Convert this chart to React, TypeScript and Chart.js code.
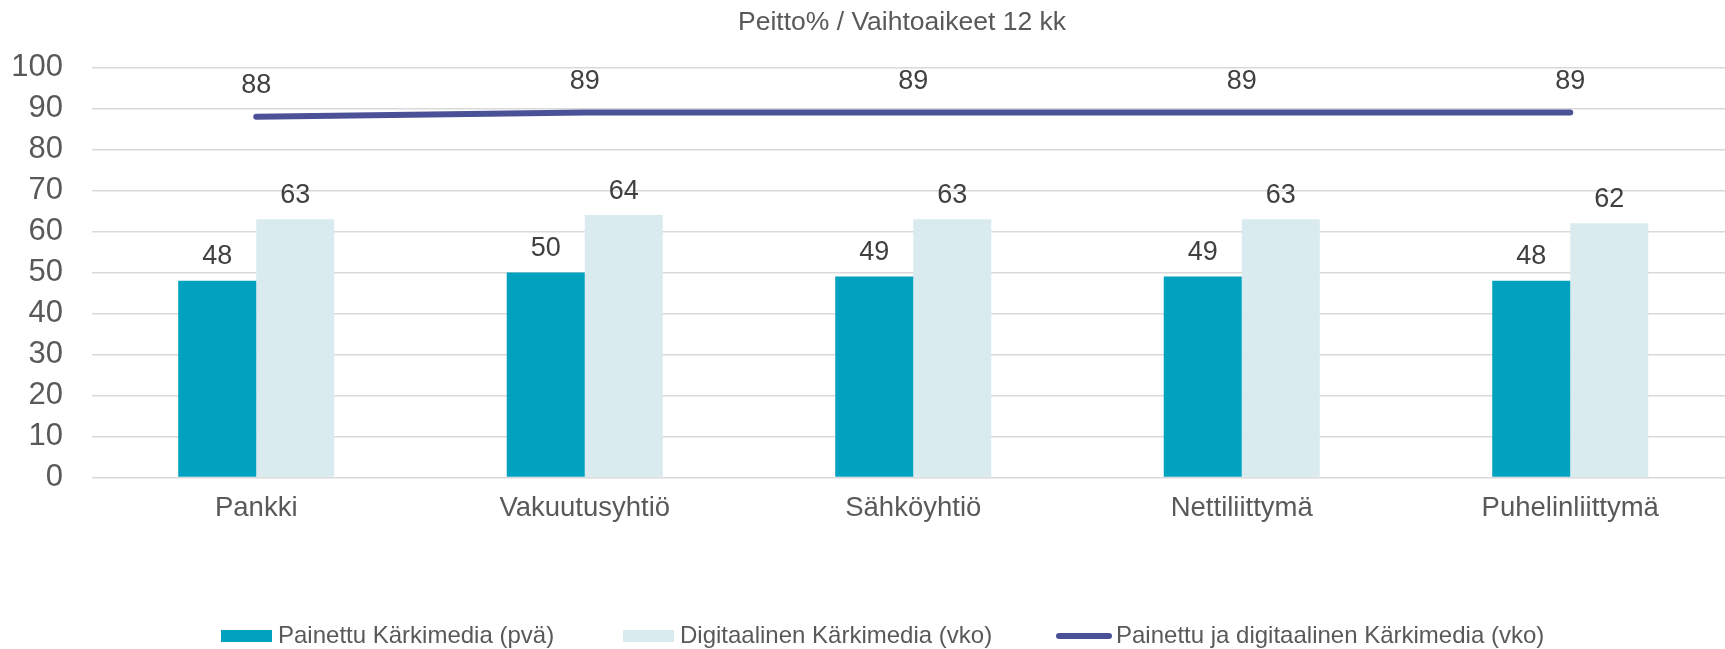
import React, { useEffect, useRef } from "react";
import { Chart, registerables } from "chart.js";

Chart.register(...registerables);

const chartTitle = "Peitto% / Vaihtoaikeet 12 kk";
const categories = ["Pankki", "Vakuutusyhtiö", "Sähköyhtiö", "Nettiliittymä", "Puhelinliittymä"];
const printedLabel = "Painettu Kärkimedia (pvä)";
const digitalLabel = "Digitaalinen Kärkimedia (vko)";
const combinedLabel = "Painettu ja digitaalinen Kärkimedia (vko)";
const printedValues = [48, 50, 49, 49, 48];
const digitalValues = [63, 64, 63, 63, 62];
const combinedValues = [88, 89, 89, 89, 89];
const yMin = 0;
const yMax = 100;
const yStep = 10;

const FONT = "'Liberation Sans', Arial, sans-serif";
const TEAL = "#00A2BF";
const LIGHT = "#DAEBEF";
const NAVY = "#4B5196";
const GRAY = "#595959";
const DARK = "#404040";

const valueLabelsPlugin = {
  id: "valueLabels",
  afterDatasetsDraw(chart: any) {
    const ctx = chart.ctx;
    ctx.save();
    ctx.font = `27px ${FONT}`;
    ctx.fillStyle = DARK;
    ctx.textAlign = "center";
    ctx.textBaseline = "middle";
    chart.data.datasets.forEach((ds: any, i: number) => {
      const meta = chart.getDatasetMeta(i);
      const off = ds.type === "line" ? 31.5 : 24;
      meta.data.forEach((el: any, j: number) => {
        ctx.fillText(String(ds.data[j]), el.x, el.y - off);
      });
    });
    ctx.restore();
  },
};

const titlePlugin = {
  id: "customTitle",
  afterDraw(chart: any) {
    const ctx = chart.ctx;
    ctx.save();
    ctx.font = `26.5px ${FONT}`;
    ctx.fillStyle = GRAY;
    ctx.textAlign = "center";
    ctx.textBaseline = "middle";
    ctx.fillText(chartTitle, 902, 23);
    ctx.restore();
  },
};

const legendX = [221, 623, 1056];

const customLegendPlugin = {
  id: "customLegend",
  afterDraw(chart: any) {
    const ctx = chart.ctx;
    ctx.save();
    ctx.font = `24px ${FONT}`;
    ctx.textBaseline = "middle";
    ctx.textAlign = "left";
    const cy = 636;
    chart.data.datasets.forEach((ds: any, i: number) => {
      const x = legendX[i];
      let textX: number;
      if (ds.type === "line") {
        ctx.strokeStyle = ds.borderColor;
        ctx.lineWidth = 6;
        ctx.lineCap = "round";
        ctx.beginPath();
        ctx.moveTo(x + 3, cy);
        ctx.lineTo(x + 53, cy);
        ctx.stroke();
        textX = x + 60;
      } else {
        ctx.fillStyle = ds.backgroundColor;
        ctx.fillRect(x, cy - 6, 51, 12);
        textX = x + 57;
      }
      ctx.fillStyle = GRAY;
      ctx.fillText(ds.label, textX, cy);
    });
    ctx.restore();
  },
};

export default function App() {
  const ref = useRef<HTMLCanvasElement | null>(null);

  useEffect(() => {
    if (!ref.current) return;
    Chart.defaults.font.family = FONT;
    const chart = new Chart(ref.current, {
      type: "bar",
      data: {
        labels: categories,
        datasets: [
          {
            type: "bar",
            label: printedLabel,
            data: printedValues,
            backgroundColor: TEAL,
            borderWidth: 0,
            categoryPercentage: 0.475,
            barPercentage: 1,
            order: 1,
          },
          {
            type: "bar",
            label: digitalLabel,
            data: digitalValues,
            backgroundColor: LIGHT,
            borderWidth: 0,
            categoryPercentage: 0.475,
            barPercentage: 1,
            order: 1,
          },
          {
            type: "line",
            label: combinedLabel,
            data: combinedValues,
            borderColor: NAVY,
            backgroundColor: NAVY,
            borderWidth: 6,
            borderCapStyle: "round",
            pointRadius: 0,
            pointHoverRadius: 0,
            tension: 0,
            fill: false,
            order: 0,
          },
        ] as any,
      },
      options: {
        responsive: false,
        animation: false,
        layout: { padding: { left: 0, right: 10.5, top: 67.5, bottom: 0 } },
        plugins: {
          legend: { display: false },
          tooltip: { enabled: false },
          title: { display: false },
        },
        scales: {
          x: {
            grid: { display: false, drawTicks: false },
            border: { display: false },
            ticks: {
              color: GRAY,
              font: { family: FONT, size: 27.5 },
              padding: 14,
              maxRotation: 0,
              autoSkip: false,
            },
            afterFit: (s: any) => {
              s.height = 171.5;
            },
          },
          y: {
            min: yMin,
            max: yMax,
            ticks: {
              stepSize: yStep,
              color: GRAY,
              font: { family: FONT, size: 31 },
              padding: 29,
            },
            grid: { color: "#D9D9D9", lineWidth: 1.5, drawTicks: false },
            border: { display: false },
            afterFit: (s: any) => {
              s.width = 92;
            },
          },
        },
      } as any,
      plugins: [valueLabelsPlugin, titlePlugin, customLegendPlugin],
    });
    return () => chart.destroy();
  }, []);

  return (
    <div
      style={{
        position: "fixed",
        left: 0,
        top: 0,
        width: 1725,
        height: 649,
        overflow: "hidden",
        background: "#fff",
      }}
    >
      <canvas ref={ref} width={1745} height={649} style={{ display: "block", width: 1745, height: 649 }} />
    </div>
  );
}
